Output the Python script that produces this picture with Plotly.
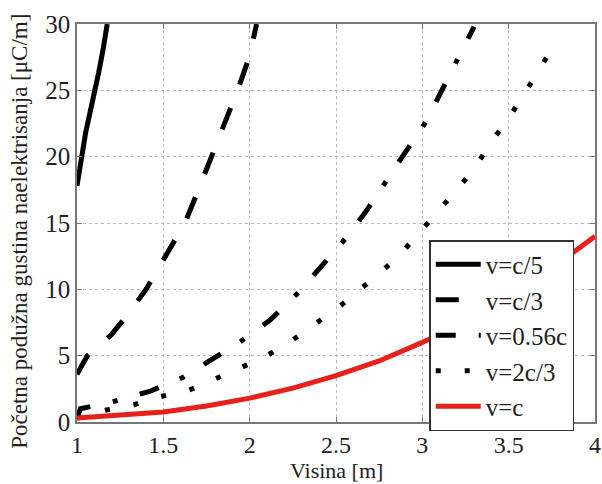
import plotly.graph_objects as go

# v = c/5
x_c5 = [1.0, 1.025, 1.05, 1.075, 1.1, 1.125, 1.15, 1.175]
y_c5 = [17.8, 20.0, 21.8, 23.3, 24.7, 26.3, 28.0, 30.0]

# v = c/3
x_c3 = [1.0, 1.06, 1.2, 1.3, 1.4, 1.5, 1.625, 1.7, 1.78, 1.85, 1.93, 2.0, 2.04]
y_c3 = [3.6, 5.0, 6.6, 8.2, 10.0, 12.2, 15.0, 17.4, 20.0, 22.4, 25.0, 27.6, 30.0]

# v = 0.56c
x_056 = [1.0, 1.02, 1.2, 1.42, 1.62, 1.78, 1.95, 2.12, 2.27, 2.4, 2.54, 2.67, 2.78, 2.9, 3.02, 3.11, 3.21, 3.3]
y_056 = [0.3, 1.0, 1.5, 2.3, 3.4, 4.7, 6.1, 7.7, 9.6, 11.5, 13.6, 15.8, 18.0, 20.3, 22.6, 25.0, 27.5, 29.8]

# v = 2c/3
x_23 = [1.0, 1.17, 1.33, 1.48, 1.65, 1.8, 1.95, 2.1, 2.24, 2.38, 2.52, 2.64, 2.77, 2.89, 3.0,
        3.11, 3.22, 3.32, 3.41, 3.51, 3.6, 3.69, 3.77]
y_23 = [0.3, 0.9, 1.3, 1.9, 2.4, 3.2, 4.1, 5.0, 6.1, 7.4, 8.7, 10.0, 11.4, 12.9, 14.5,
        16.1, 17.8, 19.5, 21.3, 23.1, 25.0, 26.8, 28.7]

# v = c
x_c = [1.0, 1.25, 1.5, 1.75, 2.0, 2.25, 2.5, 2.75, 3.0, 3.25, 3.5, 3.75, 4.0]
y_c = [0.3, 0.5, 0.75, 1.2, 1.8, 2.55, 3.5, 4.6, 6.0, 7.6, 9.4, 11.6, 14.0]

x_ticks = [1, 1.5, 2, 2.5, 3, 3.5, 4]
x_ticklabels = ["1", "1.5", "2", "2.5", "3", "3.5", "4"]
y_ticks = [0, 5, 10, 15, 20, 25, 30]

x_title = "Visina [m]"
y_title = "Početna podužna gustina naelektrisanja [μC/m]"

FONT = "Liberation Serif"

fig = go.Figure()
fig.add_trace(go.Scatter(x=x_c5, y=y_c5, mode="lines", name="v=c/5",
                         line=dict(color="black", width=5)))
fig.add_trace(go.Scatter(x=x_c3, y=y_c3, mode="lines", name="v=c/3",
                         line=dict(color="black", width=5, dash="23px,25px")))
fig.add_trace(go.Scatter(x=x_056, y=y_056, mode="lines", name="v=0.56c",
                         line=dict(color="black", width=5, dash="20px,23px,5px,23px")))
fig.add_trace(go.Scatter(x=x_23, y=y_23, mode="lines", name="v=2c/3",
                         line=dict(color="black", width=5, dash="5px,24px")))
fig.add_trace(go.Scatter(x=x_c, y=y_c, mode="lines", name="v=c",
                         line=dict(color="#e8201c", width=5)))

fig.update_layout(
    width=602, height=484,
    margin=dict(l=77, r=7, t=24, b=62, autoexpand=False),
    paper_bgcolor="white", plot_bgcolor="white",
    font=dict(family=FONT, size=25, color="#222"),
    showlegend=True,
    legend=dict(x=0.68, y=0.457, xanchor="left", yanchor="top",
                bgcolor="white", bordercolor="#333", borderwidth=1.5,
                font=dict(family=FONT, size=25, color="#222"),
                tracegroupgap=0, itemwidth=45),
    annotations=[
        dict(text=x_title, xref="paper", yref="paper", x=0.5, y=-0.122,
             xanchor="center", yanchor="middle", showarrow=False,
             font=dict(family=FONT, size=22, color="#222")),
        dict(text=y_title, xref="paper", yref="paper", x=-0.11, y=0.478,
             xanchor="center", yanchor="middle", showarrow=False, textangle=-90,
             font=dict(family=FONT, size=23, color="#222")),
    ],
)
fig.update_xaxes(
    range=[1, 4], tickvals=x_ticks, ticktext=x_ticklabels,
    tickfont=dict(family=FONT, size=24),
    showgrid=True, gridcolor="#bbbbbb", griddash="dot", gridwidth=1,
    showline=True, linecolor="#777", linewidth=1.5, mirror="ticks",
    ticks="inside", ticklen=5, tickcolor="#777", zeroline=False,
    automargin=False,
)
fig.update_yaxes(
    range=[0, 30], tickvals=y_ticks,
    tickfont=dict(family=FONT, size=25),
    showgrid=True, gridcolor="#bbbbbb", griddash="dot", gridwidth=1,
    showline=True, linecolor="#777", linewidth=1.5, mirror="ticks",
    ticks="inside", ticklen=5, tickcolor="#777", zeroline=False,
    automargin=False,
)

fig.write_html("out.html", config={"displayModeBar": False},
               post_script="document.body.style.margin='0px';")
